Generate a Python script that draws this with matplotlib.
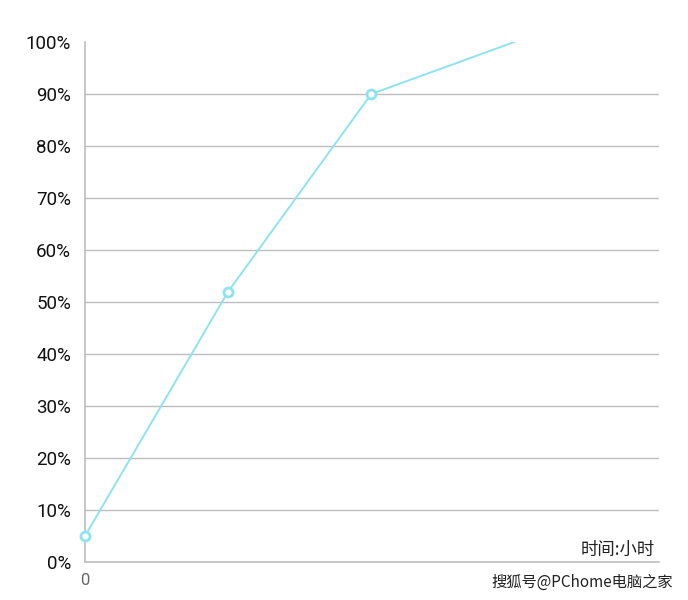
import matplotlib
matplotlib.use("Agg")
import matplotlib.pyplot as plt
from matplotlib.ticker import FuncFormatter

plt.rcParams['font.family'] = ['Roboto', 'Noto Sans CJK SC', 'DejaVu Sans']

hours = [0, 1, 2, 3]
charge = [5, 52, 90, 100]
marked = [0, 1, 2]
yticks = list(range(0, 101, 10))
line_color = '#8de3ee'
grid_color = '#bdbdbd'

fig = plt.figure(figsize=(6.88, 6.0), dpi=100)
ax = fig.add_axes([85/688, 38/600, 574/688, 520/600])

ax.plot(hours, charge, color=line_color, lw=1.4, zorder=3)
ax.plot([hours[i] for i in marked], [charge[i] for i in marked], 'o',
        ms=6.5, mfc='white', mec=line_color, mew=2, zorder=4, clip_on=False)

ax.set_xlim(0, 4.01)
ax.set_ylim(0, 100)
ax.set_yticks(yticks)
ax.yaxis.set_major_formatter(FuncFormatter(lambda v, p: f"{int(v)}%"))
ax.set_xticks([0])
ax.set_xticklabels(['0'])

for v in yticks[1:-1]:
    ax.axhline(v, color=grid_color, lw=1, zorder=1)

for s in ['top', 'right']:
    ax.spines[s].set_visible(False)
for s in ['left', 'bottom']:
    ax.spines[s].set_color(grid_color)
    ax.spines[s].set_linewidth(1.2)

ax.tick_params(axis='y', length=0, pad=10, labelsize=13.5, labelcolor='#111111')
ax.tick_params(axis='x', length=0, pad=8, labelsize=12, labelcolor='#666666')

fig.text(655/688, 1 - 550/600, '时间:小时', ha='right', va='center',
         fontsize=12.5, color='#222222', family=['Noto Sans CJK SC', 'DejaVu Sans'])
fig.text(673/688, 1 - 582/600, '搜狐号@PChome电脑之家', ha='right', va='center',
         fontsize=11, color='#222222', family=['Noto Sans CJK SC', 'DejaVu Sans'])

fig.savefig('out.png', dpi=100)
